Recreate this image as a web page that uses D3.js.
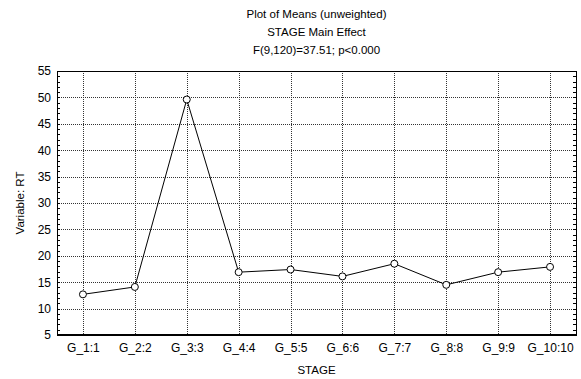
<!DOCTYPE html>
<html>
<head>
<meta charset="utf-8">
<script src="https://cdn.jsdelivr.net/npm/d3@7/dist/d3.min.js"></script>
<style>
  html, body { margin: 0; padding: 0; background: #fff; }
  svg { display: block; font-family: "Liberation Sans", Arial, sans-serif; }
</style>
</head>
<body>
<svg id="chart" width="581" height="379"></svg>
<script>
// Mean RT per stage
const stages = ["G_1:1", "G_2:2", "G_3:3", "G_4:4", "G_5:5", "G_6:6", "G_7:7", "G_8:8", "G_9:9", "G_10:10"];
const means = [12.7, 14.1, 49.6, 16.9, 17.4, 16.1, 18.5, 14.5, 16.9, 17.9];
const yTicks = [5, 10, 15, 20, 25, 30, 35, 40, 45, 50, 55];
const titleLines = ["Plot of Means (unweighted)", "STAGE Main Effect", "F(9,120)=37.51; p<0.000"];
const xTitle = "STAGE";
const yTitle = "Variable: RT";

const svg = d3.select("#chart");
const W = 581, H = 379;
const m = { left: 57, right: 5, top: 71, bottom: 44 };
const pw = W - m.left - m.right, ph = H - m.top - m.bottom;

const x = d3.scalePoint().domain(stages).range([0, pw]).padding(0.5);
const y = d3.scaleLinear().domain([5, 55]).range([ph, 0]);

const g = svg.append("g").attr("transform", `translate(${m.left},${m.top})`);

// dotted grid
const gridStyle = sel => sel.attr("stroke", "#333").attr("stroke-width", 1)
  .attr("stroke-dasharray", "1,1").attr("shape-rendering", "crispEdges");
g.append("g").selectAll("line").data(yTicks.slice(1, -1)).join("line")
  .attr("x1", 0).attr("x2", pw)
  .attr("y1", d => Math.round(y(d)) + 0.5).attr("y2", d => Math.round(y(d)) + 0.5)
  .call(gridStyle);
g.append("g").selectAll("line").data(stages).join("line")
  .attr("x1", d => Math.round(x(d)) + 0.5).attr("x2", d => Math.round(x(d)) + 0.5)
  .attr("y1", 0).attr("y2", ph)
  .call(gridStyle);

// minor ticks along the left and right frame, pointing inward
const minor = d3.range(5, 56, 1);
g.append("g").selectAll("line").data(minor).join("line")
  .attr("x1", 0).attr("x2", 3)
  .attr("y1", d => Math.round(y(d)) + 0.5).attr("y2", d => Math.round(y(d)) + 0.5)
  .attr("stroke", "#000").attr("shape-rendering", "crispEdges");
g.append("g").selectAll("line").data(minor).join("line")
  .attr("x1", pw - 3).attr("x2", pw)
  .attr("y1", d => Math.round(y(d)) + 0.5).attr("y2", d => Math.round(y(d)) + 0.5)
  .attr("stroke", "#000").attr("shape-rendering", "crispEdges");

// frame
g.append("rect").attr("x", 0.5).attr("y", 0.5).attr("width", pw).attr("height", ph)
  .attr("fill", "none").attr("stroke", "#000").attr("stroke-width", 1)
  .attr("shape-rendering", "crispEdges");
g.append("line").attr("x1", 0).attr("x2", pw).attr("y1", ph).attr("y2", ph)
  .attr("stroke", "#000").attr("stroke-width", 2).attr("shape-rendering", "crispEdges");

// axes (labels only)
const yAxis = g.append("g").call(d3.axisLeft(y).tickValues(yTicks).tickSize(0).tickPadding(6));
const xAxis = g.append("g").attr("transform", `translate(0,${ph})`)
  .call(d3.axisBottom(x).tickSize(0).tickPadding(8));
[yAxis, xAxis].forEach(a => {
  a.select(".domain").remove();
  a.selectAll("text").attr("font-size", 12).attr("fill", "#000")
    .attr("font-family", "'Liberation Sans', Arial, sans-serif");
});

// mean line and markers
const pts = stages.map((s, i) => ({ s, v: means[i] }));
g.append("path").datum(pts)
  .attr("d", d3.line().x(d => x(d.s)).y(d => y(d.v)))
  .attr("fill", "none").attr("stroke", "#000").attr("stroke-width", 1);
g.append("g").selectAll("circle").data(pts).join("circle")
  .attr("cx", d => x(d.s)).attr("cy", d => y(d.v)).attr("r", 3.5)
  .attr("fill", "#fff").attr("stroke", "#000").attr("stroke-width", 1);

// titles
const cx = m.left + pw / 2;
svg.append("g").selectAll("text").data(titleLines).join("text")
  .attr("x", cx).attr("y", (d, i) => 18 + i * 18)
  .attr("text-anchor", "middle").attr("font-size", 11.5).text(d => d);
svg.append("text").attr("x", cx).attr("y", 374)
  .attr("text-anchor", "middle").attr("font-size", 11.5).text(xTitle);
svg.append("text").attr("transform", `translate(24,${m.top + ph / 2}) rotate(-90)`)
  .attr("text-anchor", "middle").attr("font-size", 11.5).text(yTitle);
</script>
</body>
</html>
